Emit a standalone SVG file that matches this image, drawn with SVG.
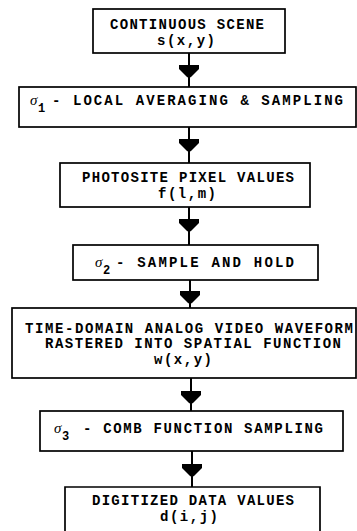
<svg xmlns="http://www.w3.org/2000/svg" xmlns:xlink="http://www.w3.org/1999/xlink" width="357" height="531" viewBox="0 0 357 531">
  <style>
    .box { fill: #fff; stroke: #000; stroke-width: 1.7; }
    .t { font-family: "Liberation Mono", "DejaVu Sans Mono", monospace; font-weight: bold; font-size: 14px; fill: #000; }
    .sig { font-family: "Liberation Serif", "DejaVu Serif", serif; font-style: italic; font-size: 15px; fill: #000; }
    .sub { font-family: "Liberation Mono", "DejaVu Sans Mono", monospace; font-weight: bold; font-size: 12px; fill: #000; }
    .stem { stroke: #000; stroke-width: 2; fill: none; }
  </style>
  <defs>
    <!-- arrowhead drawn with its tip at the origin -->
    <path id="head" d="M-10,-13 L10,-13 L10,-9 L2,-1 L0,0 L-2,-1 L-10,-9 Z" fill="#000"/>
  </defs>
  <rect width="357" height="531" fill="#fff"/>

  <g id="connectors">
    <line class="stem" x1="189" y1="53" x2="189" y2="87"/>
    <use xlink:href="#head" x="189" y="78"/>
    <line class="stem" x1="189" y1="127" x2="189" y2="163"/>
    <use xlink:href="#head" x="189" y="152"/>
    <line class="stem" x1="189" y1="207" x2="189" y2="245"/>
    <use xlink:href="#head" x="189" y="232"/>
    <line class="stem" x1="190" y1="280" x2="190" y2="308"/>
    <use xlink:href="#head" x="190" y="304"/>
    <line class="stem" x1="191" y1="378" x2="191" y2="411"/>
    <use xlink:href="#head" x="191" y="404"/>
    <line class="stem" x1="192" y1="451" x2="192" y2="487"/>
    <use xlink:href="#head" x="192" y="477"/>
  </g>

  <g id="scene">
    <rect class="box" x="93" y="9" width="192" height="44"/>
    <text class="t" x="110" y="29" textLength="154" lengthAdjust="spacing">CONTINUOUS SCENE</text>
    <text class="t" x="157" y="45" textLength="58" lengthAdjust="spacing">s(x,y)</text>
  </g>

  <g id="sigma1">
    <rect class="box" x="19" y="87" width="337" height="40"/>
    <text class="sig" x="30" y="105">σ</text>
    <text class="sub" x="38" y="112">1</text>
    <text class="t" x="52" y="105" textLength="291" lengthAdjust="spacing">- LOCAL AVERAGING &amp; SAMPLING</text>
  </g>

  <g id="photosite">
    <rect class="box" x="60" y="163" width="250" height="44"/>
    <text class="t" x="82" y="182" textLength="212" lengthAdjust="spacing">PHOTOSITE PIXEL VALUES</text>
    <text class="t" x="158" y="198" textLength="58" lengthAdjust="spacing">f(l,m)</text>
  </g>

  <g id="sigma2">
    <rect class="box" x="73" y="245" width="245" height="35"/>
    <text class="sig" x="95" y="267">σ</text>
    <text class="sub" x="103" y="274">2</text>
    <text class="t" x="116" y="267" textLength="178" lengthAdjust="spacing">- SAMPLE AND HOLD</text>
  </g>

  <g id="waveform">
    <rect class="box" x="12" y="308" width="344" height="70"/>
    <text class="t" x="25" y="333" textLength="328" lengthAdjust="spacing">TIME-DOMAIN ANALOG VIDEO WAVEFORM</text>
    <text class="t" x="45" y="348" textLength="296" lengthAdjust="spacing">RASTERED INTO SPATIAL FUNCTION</text>
    <text class="t" x="154" y="364" textLength="58" lengthAdjust="spacing">w(x,y)</text>
  </g>

  <g id="sigma3">
    <rect class="box" x="40" y="411" width="303" height="40"/>
    <text class="sig" x="54" y="433">σ</text>
    <text class="sub" x="62" y="440">3</text>
    <text class="t" x="83" y="433" textLength="240" lengthAdjust="spacing">- COMB FUNCTION SAMPLING</text>
  </g>

  <g id="digitized">
    <path class="box" d="M65,540 L65,487 L320,487 L320,540"/>
    <text class="t" x="92" y="505" textLength="202" lengthAdjust="spacing">DIGITIZED DATA VALUES</text>
    <text class="t" x="160" y="521" textLength="58" lengthAdjust="spacing">d(i,j)</text>
  </g>
</svg>
